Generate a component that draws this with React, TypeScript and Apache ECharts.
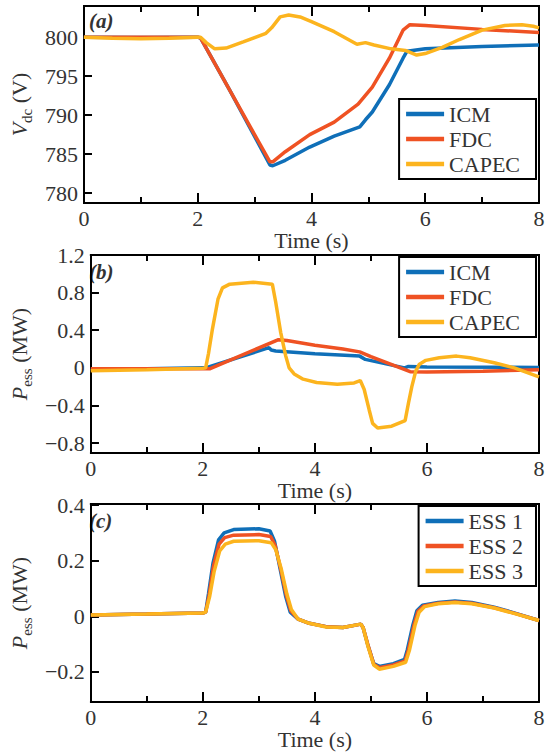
import React, { useEffect, useRef } from "react";
import * as echarts from "echarts";

// ---------- data ----------
const timeTicks = [0, 2, 4, 6, 8];
const vdcTicks = [780, 785, 790, 795, 800];
const pTicksB = [-0.8, -0.4, 0, 0.4, 0.8, 1.2];
const pTicksC = [-0.2, 0, 0.2, 0.4];

const namesAB = ["ICM", "FDC", "CAPEC"];
const namesC = ["ESS 1", "ESS 2", "ESS 3"];

const icmVdc: number[][] = [
  [0, 800], [1, 799.95], [2, 800], [2.05, 799.9], [2.57, 793.1], [3.27, 783.6], [3.32, 783.5],
  [3.54, 784.2], [3.97, 785.9], [4.4, 787.3], [4.85, 788.5], [4.95, 789.4], [5.07, 790.4],
  [5.37, 793.9], [5.61, 797.3], [5.68, 798.2], [6, 798.5], [7, 798.8], [8, 799.0],
];
const fdcVdc: number[][] = [
  [0, 800], [1, 800], [2, 800], [2.05, 799.9], [2.57, 793.1], [3.27, 784.0], [3.32, 784.0],
  [3.54, 785.3], [3.97, 787.5], [4.4, 789.1], [4.82, 791.4], [5.07, 793.6], [5.37, 797.3],
  [5.61, 800.9], [5.73, 801.6], [6, 801.5], [7, 801.0], [8, 800.6],
];
const capecVdc: number[][] = [
  [0, 800], [0.5, 799.85], [1, 799.8], [1.5, 799.85], [2, 800], [2.05, 800], [2.15, 799.3],
  [2.3, 798.5], [2.5, 798.6], [2.8, 799.4], [3.2, 800.5], [3.3, 801.2], [3.45, 802.6],
  [3.6, 802.85], [3.8, 802.6], [4.0, 802.0], [4.4, 800.7], [4.8, 799.1], [4.95, 799.3],
  [5.1, 799.0], [5.4, 798.5], [5.65, 798.3], [5.85, 797.7], [6.0, 797.9], [6.3, 798.7],
  [6.6, 799.7], [7.0, 800.9], [7.4, 801.5], [7.7, 801.6], [7.9, 801.4], [8, 801.2],
];

const icmP: number[][] = [
  [0, -0.02], [1, -0.01], [2, 0], [2.05, 0], [3.18, 0.215], [3.22, 0.19], [3.3, 0.18],
  [4, 0.15], [4.8, 0.125], [4.9, 0.09], [5.6, 0.0], [5.67, 0.015], [6, 0.01], [8, 0.005],
];
const fdcP: number[][] = [
  [0, -0.01], [2, -0.01], [2.12, -0.01], [3.35, 0.3], [3.5, 0.29], [4, 0.24], [4.5, 0.2],
  [4.8, 0.17], [5, 0.12], [5.7, -0.04], [6, -0.045], [7, -0.035], [8, -0.02],
];
const capecP: number[][] = [
  [0, -0.03], [1, -0.02], [2, -0.005], [2.05, 0], [2.1, 0.15], [2.17, 0.41], [2.27, 0.73],
  [2.35, 0.85], [2.48, 0.89], [2.9, 0.91], [3.24, 0.89], [3.3, 0.7], [3.39, 0.375],
  [3.48, 0.125], [3.54, 0], [3.63, -0.065], [3.79, -0.12], [4.03, -0.155], [4.4, -0.175],
  [4.7, -0.16], [4.81, -0.135], [4.88, -0.23], [4.97, -0.45], [5.03, -0.59], [5.12, -0.64],
  [5.37, -0.62], [5.61, -0.56], [5.67, -0.375], [5.73, -0.2], [5.8, -0.035], [5.86, 0.035],
  [5.98, 0.08], [6.22, 0.107], [6.53, 0.125], [6.77, 0.107], [7.2, 0.054], [7.56, 0],
  [8, -0.096],
];

const ess1: number[][] = [
  [0, 0.005], [1, 0.008], [2, 0.012], [2.05, 0.015], [2.1, 0.08], [2.18, 0.19], [2.28, 0.275],
  [2.38, 0.3], [2.55, 0.312], [3.0, 0.315], [3.2, 0.307], [3.28, 0.27], [3.38, 0.17],
  [3.48, 0.07], [3.56, 0.015], [3.7, -0.01], [3.9, -0.025], [4.2, -0.037], [4.5, -0.04],
  [4.82, -0.028], [4.86, -0.04], [4.94, -0.1], [5.05, -0.17], [5.15, -0.18], [5.4, -0.17],
  [5.6, -0.155], [5.65, -0.12], [5.75, -0.03], [5.82, 0.02], [5.92, 0.04], [6.2, 0.05],
  [6.5, 0.055], [6.8, 0.05], [7.2, 0.033], [7.6, 0.01], [8, -0.015],
];
const ess2: number[][] = [
  [0, 0.005], [1, 0.008], [2, 0.012], [2.05, 0.015], [2.11, 0.075], [2.19, 0.18], [2.29, 0.26],
  [2.39, 0.283], [2.55, 0.292], [3.0, 0.294], [3.21, 0.287], [3.29, 0.255], [3.39, 0.17],
  [3.49, 0.075], [3.57, 0.02], [3.7, -0.01], [3.9, -0.025], [4.2, -0.037], [4.5, -0.04],
  [4.82, -0.028], [4.86, -0.04], [4.95, -0.105], [5.05, -0.172], [5.15, -0.185], [5.4, -0.175],
  [5.61, -0.16], [5.67, -0.12], [5.77, -0.03], [5.84, 0.018], [5.94, 0.037], [6.2, 0.047],
  [6.5, 0.052], [6.8, 0.047], [7.2, 0.031], [7.6, 0.009], [8, -0.015],
];
const ess3: number[][] = [
  [0, 0.005], [1, 0.008], [2, 0.012], [2.05, 0.015], [2.12, 0.07], [2.2, 0.16], [2.3, 0.235],
  [2.4, 0.26], [2.55, 0.27], [3.0, 0.272], [3.22, 0.265], [3.3, 0.24], [3.4, 0.17],
  [3.5, 0.08], [3.58, 0.025], [3.7, -0.01], [3.9, -0.025], [4.2, -0.038], [4.5, -0.04],
  [4.82, -0.028], [4.86, -0.04], [4.95, -0.11], [5.05, -0.175], [5.15, -0.19], [5.4, -0.18],
  [5.62, -0.165], [5.69, -0.12], [5.79, -0.03], [5.86, 0.015], [5.96, 0.035], [6.2, 0.045],
  [6.5, 0.05], [6.8, 0.045], [7.2, 0.03], [7.6, 0.008], [8, -0.015],
];

// ---------- styles ----------
const FONT = "Liberation Serif, Times New Roman, serif";
const TXT = "#333333";
const COLORS = ["#0F6FB8", "#EF5223", "#FCB41E"];

const frame = () => ({ show: true, onZero: false, lineStyle: { color: "#000", width: 2 } });
const tickStyle = () => ({ color: "#000", width: 2 });
const fmt = (v: number) => (v < 0 ? "\u2212" + String(Math.abs(v)) : String(v));

const richName = {
  i: { fontFamily: FONT, fontSize: 22, fontStyle: "italic", color: TXT, lineHeight: 22, verticalAlign: "top" },
  s: { fontFamily: FONT, fontSize: 15, color: TXT, lineHeight: 15, padding: [11, 0, 0, 0], verticalAlign: "top" },
  n: { fontFamily: FONT, fontSize: 22, color: TXT, lineHeight: 22, verticalAlign: "top" },
};

function xAx(gridIndex: number) {
  return {
    type: "value",
    gridIndex,
    position: "bottom",
    min: 0,
    max: 8,
    interval: 2,
    name: "Time (s)",
    nameLocation: "middle",
    nameGap: 25,
    nameTextStyle: { fontFamily: FONT, fontSize: 22, color: TXT },
    axisLine: frame(),
    axisTick: { show: true, inside: true, length: 10, lineStyle: tickStyle() },
    minorTick: { show: true, splitNumber: 2, length: 6, lineStyle: tickStyle() },
    axisLabel: { show: true, fontFamily: FONT, fontSize: 22, color: TXT, margin: 4 },
    splitLine: { show: false },
  };
}

// extra tick-carrying x axis (no labels)
function xTicks(gridIndex: number, interval: number, length: number) {
  return {
    type: "value",
    gridIndex,
    min: 0,
    max: 8,
    interval,
    axisLine: { show: true, onZero: false, lineStyle: { color: "#000", width: 2 } },
    axisTick: { show: true, inside: true, length, lineStyle: tickStyle() },
    axisLabel: { show: false },
    splitLine: { show: false },
  };
}

function xTop(gridIndex: number) {
  return {
    type: "value",
    gridIndex,
    position: "top",
    min: 0,
    max: 8,
    axisLine: frame(),
    axisTick: { show: false },
    axisLabel: { show: false },
    splitLine: { show: false },
  };
}

function yAx(gridIndex: number, min: number, max: number, ticks: number[], name: string) {
  return {
    type: "value",
    gridIndex,
    position: "left",
    min,
    max,
    name,
    nameLocation: "middle",
    nameGap: 46,
    nameTextStyle: { fontFamily: FONT, fontSize: 22, color: TXT, rich: richName },
    axisLine: frame(),
    axisTick: { show: true, inside: true, length: 8, lineStyle: tickStyle(), customValues: ticks },
    axisLabel: { show: true, fontFamily: FONT, fontSize: 22, color: TXT, margin: 6, customValues: ticks, formatter: fmt },
    splitLine: { show: false },
  };
}

function yTicks(gridIndex: number, min: number, max: number, ticks: number[]) {
  return {
    type: "value",
    gridIndex,
    position: "left",
    min,
    max,
    axisLine: { show: true, lineStyle: { color: "#000", width: 2 } },
    axisTick: { show: true, inside: true, length: 8, lineStyle: tickStyle(), customValues: ticks },
    axisLabel: { show: false, customValues: ticks },
    splitLine: { show: false },
  };
}

function yRight(gridIndex: number, min: number, max: number) {
  return {
    type: "value",
    gridIndex,
    position: "right",
    min,
    max,
    axisLine: frame(),
    axisTick: { show: false },
    axisLabel: { show: false },
    splitLine: { show: false },
  };
}

function leg(data: string[], top: number, padding: number[]) {
  return {
    orient: "vertical",
    right: 14,
    top,
    data,
    icon: "rect",
    itemWidth: 38,
    itemHeight: 4.5,
    itemGap: 3,
    padding,
    borderColor: "#000",
    borderWidth: 2,
    borderRadius: 0,
    backgroundColor: "#fff",
    selectedMode: false,
    itemStyle: { borderWidth: 0 },
    textStyle: { fontFamily: FONT, fontSize: 22, color: TXT },
  };
}

function line(name: string, data: number[][], idx: number) {
  return {
    type: "line",
    name,
    data,
    xAxisIndex: idx,
    yAxisIndex: idx,
    symbol: "none",
    lineStyle: { width: 3.5 },
  };
}

function panelLabel(text: string, y: number) {
  return {
    type: "text",
    x: 89,
    y,
    style: {
      text,
      fontFamily: FONT,
      fontSize: 21,
      fontWeight: "bold",
      fontStyle: "italic",
      fill: TXT,
      verticalAlign: "middle",
    },
  };
}

const yRanges: number[][] = [
  [778.72, 804.0],
  [-0.905, 1.2],
  [-0.308, 0.404],
];

export default function App() {
  const ref = useRef<HTMLDivElement>(null);
  useEffect(() => {
    if (!ref.current) return;
    const chart = echarts.init(ref.current, null, { renderer: "svg" });
    chart.setOption({
      animation: false,
      color: COLORS,
      grid: [
        { left: 77, right: 11, top: 6, height: 197, show: false },
        { left: 77, right: 11, top: 255, height: 198, show: false },
        { left: 77, right: 11, top: 504, height: 198, show: false },
      ],
      xAxis: [
        xAx(0), xAx(1), xAx(2),
        xTop(0), xTop(1), xTop(2),
        xTicks(0, 2, 10), xTicks(1, 2, 10), xTicks(2, 2, 10),
        xTicks(0, 1, 6), xTicks(1, 1, 6), xTicks(2, 1, 6),
      ],
      yAxis: [
        yAx(0, yRanges[0][0], yRanges[0][1], vdcTicks, "{i|V}{s|dc}{n| (V)}"),
        yAx(1, yRanges[1][0], yRanges[1][1], pTicksB, "{i|P}{s|ess}{n| (MW)}"),
        yAx(2, yRanges[2][0], yRanges[2][1], pTicksC, "{i|P}{s|ess}{n| (MW)}"),
        yRight(0, yRanges[0][0], yRanges[0][1]),
        yRight(1, yRanges[1][0], yRanges[1][1]),
        yRight(2, yRanges[2][0], yRanges[2][1]),
        yTicks(0, yRanges[0][0], yRanges[0][1], vdcTicks),
        yTicks(1, yRanges[1][0], yRanges[1][1], pTicksB),
        yTicks(2, yRanges[2][0], yRanges[2][1], pTicksC),
      ],
      legend: [
        leg(namesAB, 99, [4, 16, 4, 7]),
        leg(namesAB, 257, [4, 16, 4, 7]),
        leg(namesC, 506, [4, 13, 4, 7]),
      ],
      graphic: [panelLabel("(a)", 21), panelLabel("(b)", 272), panelLabel("(c)", 521)],
      series: [
        line(namesAB[0], icmVdc, 0),
        line(namesAB[1], fdcVdc, 0),
        line(namesAB[2], capecVdc, 0),
        line(namesAB[0], icmP, 1),
        line(namesAB[1], fdcP, 1),
        line(namesAB[2], capecP, 1),
        line(namesC[0], ess1, 2),
        line(namesC[1], ess2, 2),
        line(namesC[2], ess3, 2),
      ],
    });
    return () => chart.dispose();
  }, []);
  return (
    <div
      ref={ref}
      style={{ position: "absolute", left: 0, top: 0, width: 550, height: 756, background: "#fff" }}
    />
  );
}
